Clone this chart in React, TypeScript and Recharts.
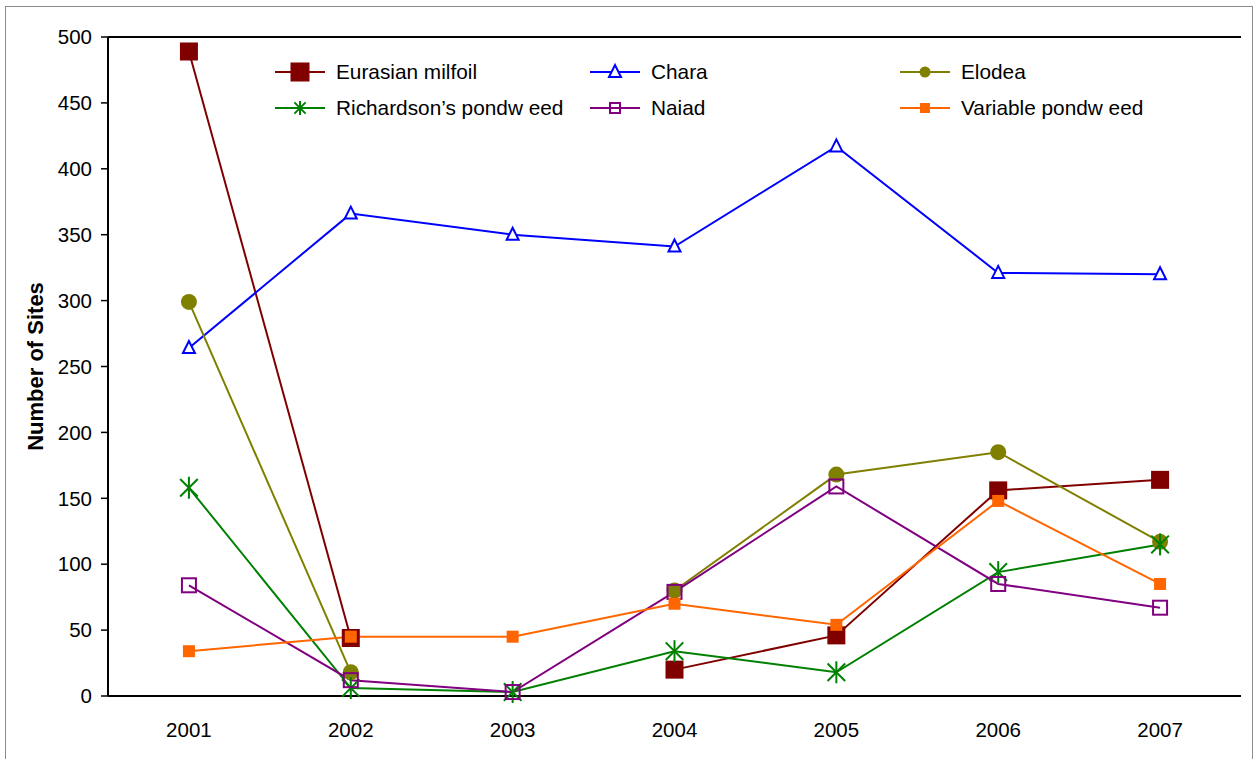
import React from "react";
import { LineChart, Line, XAxis, YAxis, ReferenceLine } from "recharts";

const years = ["2001", "2002", "2003", "2004", "2005", "2006", "2007"];
const eurasianMilfoil = [489, 44, null, 20, 46, 156, 164];
const chara = [264, 366, 350, 341, 417, 321, 320];
const elodea = [299, 18, null, 80, 168, 185, 117];
const richardsons = [158, 6, 3, 34, 18, 94, 115];
const naiad = [84, 12, 3, 79, 159, 85, 67];
const variablePondweed = [34, 45, 45, 70, 54, 148, 85];
const yTicks = [0, 50, 100, 150, 200, 250, 300, 350, 400, 450, 500];
const edgeTicks = [0, 1, 2, 3, 4, 5, 6, 7];

const data = years.map((year, i) => ({
  year,
  eurasian: eurasianMilfoil[i],
  chara: chara[i],
  elodea: elodea[i],
  richardsons: richardsons[i],
  naiad: naiad[i],
  variable: variablePondweed[i],
}));

type MarkerKind = "bigSquare" | "triangle" | "circle" | "star" | "openSquare" | "square";

const drawMarker = (kind: MarkerKind, color: string, cx: number, cy: number, small = false) => {
  switch (kind) {
    case "bigSquare": {
      const s = small ? 19 : 18;
      return <rect x={cx - s / 2} y={cy - s / 2} width={s} height={s} fill={color} />;
    }
    case "triangle": {
      const h = 6;
      return (
        <polygon
          points={`${cx},${cy - h - 1} ${cx - h},${cy + h - 1} ${cx + h},${cy + h - 1}`}
          fill="#fff"
          stroke={color}
          strokeWidth={2}
        />
      );
    }
    case "circle":
      return <circle cx={cx} cy={cy} r={small ? 5.5 : 8} fill={color} />;
    case "star": {
      const r = small ? 7 : 11;
      const d = r * 0.8;
      return (
        <g stroke={color} strokeWidth={2}>
          <line x1={cx} y1={cy - r} x2={cx} y2={cy + r} />
          <line x1={cx - d} y1={cy - d} x2={cx + d} y2={cy + d} />
          <line x1={cx - d} y1={cy + d} x2={cx + d} y2={cy - d} />
        </g>
      );
    }
    case "openSquare": {
      const s = small ? 10 : 14;
      return (
        <rect x={cx - s / 2} y={cy - s / 2} width={s} height={s} fill="none" stroke={color} strokeWidth={2} />
      );
    }
    case "square": {
      const s = small ? 10 : 12;
      return <rect x={cx - s / 2} y={cy - s / 2} width={s} height={s} fill={color} />;
    }
  }
};

const series: { key: string; name: string; color: string; marker: MarkerKind }[] = [
  { key: "eurasian", name: "Eurasian milfoil", color: "#800000", marker: "bigSquare" },
  { key: "chara", name: "Chara", color: "#0000ff", marker: "triangle" },
  { key: "elodea", name: "Elodea", color: "#808000", marker: "circle" },
  { key: "richardsons", name: "Richardson\u2019s pondw eed", color: "#008000", marker: "star" },
  { key: "naiad", name: "Naiad", color: "#800080", marker: "openSquare" },
  { key: "variable", name: "Variable pondw eed", color: "#ff6600", marker: "square" },
];

const makeDot = (kind: MarkerKind, color: string) => (props: any) => {
  const { cx, cy, index, value } = props;
  if (cx == null || cy == null || value == null) return <g key={`d-${index}`} />;
  return <g key={`d-${index}`}>{drawMarker(kind, color, cx, cy)}</g>;
};

const legendCols = [270, 585, 895];
const legendRows = [72, 108];

const LegendBox = () => (
  <svg
    width={1256}
    height={140}
    style={{ position: "absolute", left: 0, top: 0, pointerEvents: "none" }}
  >
    {series.map((s, i) => {
      const x = legendCols[i % 3];
      const y = legendRows[Math.floor(i / 3)];
      return (
        <g key={s.key}>
          <line x1={x + 5} y1={y} x2={x + 55} y2={y} stroke={s.color} strokeWidth={2} />
          {drawMarker(s.marker, s.color, x + 30, y, true)}
          <text
            x={x + 66}
            y={y}
            dy="0.35em"
            fontFamily="'Liberation Sans', Arial, sans-serif"
            fontSize={20.8}
            fill="#000"
          >
            {s.name}
          </text>
        </g>
      );
    })}
  </svg>
);

const tickFont = { fontFamily: "'Liberation Sans', Arial, sans-serif", fontSize: 20.5, fill: "#000" };

export default function App() {
  return (
    <div
      style={{
        position: "absolute",
        left: 0,
        top: 0,
        width: 1256,
        height: 759,
        overflow: "hidden",
        background: "#fff",
      }}
    >
      <div
        style={{
          position: "absolute",
          left: 5,
          top: 6,
          width: 1246,
          height: 800,
          border: "1px solid #8c8c8c",
        }}
      />
      <div style={{ position: "absolute", left: 0, top: 0 }}>
        <LineChart width={1256} height={759} data={data} margin={{ top: 37, right: 15, bottom: 0, left: 0 }}>
          <XAxis
            xAxisId="edges"
            type="number"
            domain={[0, 7]}
            ticks={edgeTicks}
            tick={false}
            axisLine={false}
            tickLine={{ stroke: "#000", strokeWidth: 1.5 }}
            tickSize={7}
            height={0}
          />
          <XAxis
            dataKey="year"
            scale="band"
            height={63}
            axisLine={{ stroke: "#000", strokeWidth: 2 }}
            tickLine={false}
            tickMargin={20}
            tick={tickFont}
          />
          <YAxis
            domain={[0, 500]}
            ticks={yTicks}
            width={108}
            tickSize={7}
            tickMargin={9}
            axisLine={{ stroke: "#000", strokeWidth: 2 }}
            tickLine={{ stroke: "#000", strokeWidth: 1.5 }}
            tick={tickFont}
            label={{
              value: "Number of Sites",
              angle: -90,
              position: "insideLeft",
              offset: 35,
              style: {
                fontFamily: "'Liberation Sans', Arial, sans-serif",
                fontSize: 22,
                fontWeight: "bold",
                fill: "#000",
                textAnchor: "middle",
              },
            }}
          />
          {/* plot area frame: top and right edges */}
          <ReferenceLine y={500} stroke="#000" strokeWidth={2} />
          <ReferenceLine xAxisId="edges" x={7} stroke="#000" strokeWidth={2} />
          {series.map((s) => (
            <Line
              key={s.key}
              dataKey={s.key}
              name={s.name}
              type="linear"
              stroke={s.color}
              strokeWidth={2}
              dot={makeDot(s.marker, s.color)}
              activeDot={false}
              isAnimationActive={false}
            />
          ))}
        </LineChart>
      </div>
      <LegendBox />
    </div>
  );
}
